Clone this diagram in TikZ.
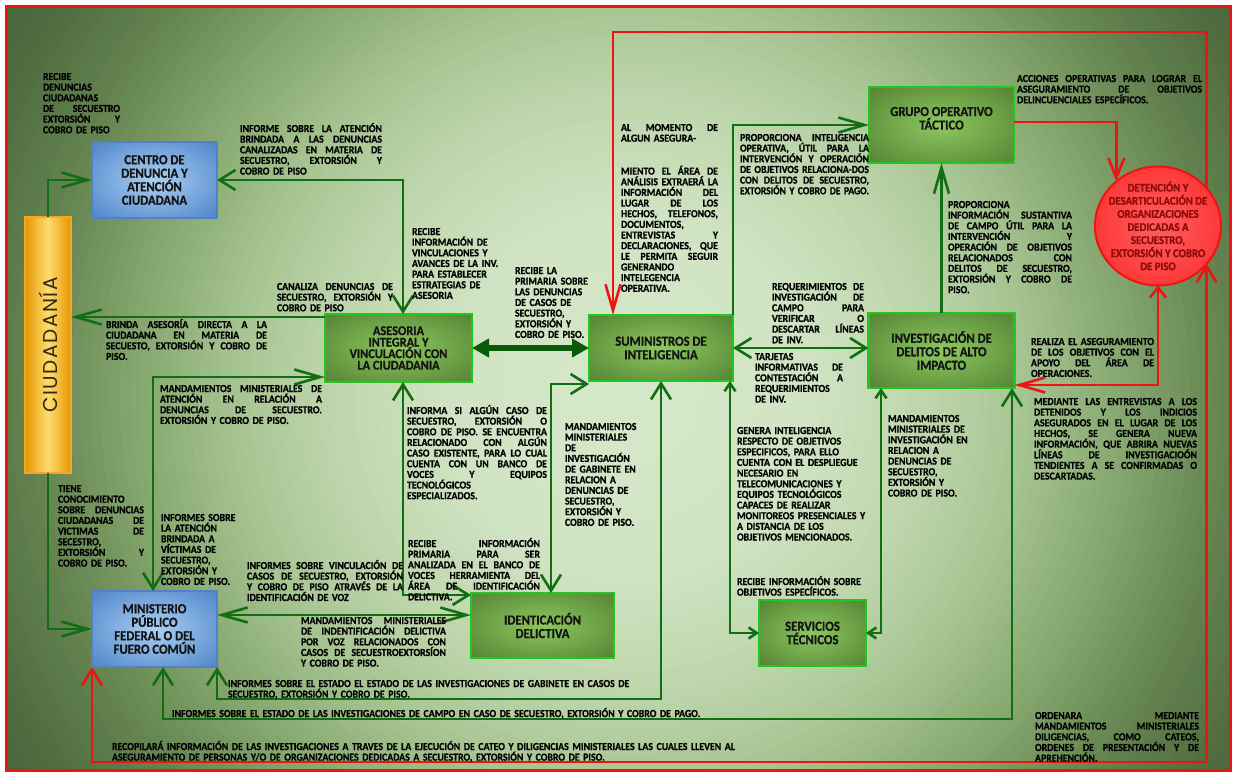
\documentclass[tikz,border=0pt]{standalone}
\usepackage{fontspec}
\usepackage{graphicx}
\setmainfont{Carlito}[FakeStretch=0.92, BoldFeatures={FakeBold=0.8}]
\newfontfamily\ciufont{Poppins}[LetterSpace=8]
\usetikzlibrary{arrows.meta,shapes.geometric}

\definecolor{gline}{RGB}{18,110,18}
\definecolor{gdark}{RGB}{10,90,10}
\definecolor{rline}{RGB}{238,20,20}
\definecolor{gborder}{RGB}{30,200,30}
\definecolor{gin}{RGB}{140,200,95}
\definecolor{gout}{RGB}{70,112,40}
\definecolor{goutd}{RGB}{56,92,32}
\definecolor{bin}{RGB}{170,208,242}
\definecolor{bout}{RGB}{55,112,190}
\definecolor{boutd}{RGB}{45,92,160}
\definecolor{bborder}{RGB}{80,130,200}
\definecolor{rin}{RGB}{255,95,95}
\definecolor{rout}{RGB}{250,18,18}
\definecolor{ttxt}{RGB}{20,20,20}
\definecolor{dtxt}{RGB}{140,10,10}
\definecolor{ctxt}{RGB}{50,40,20}
\definecolor{oin}{RGB}{255,220,110}
\definecolor{oout}{RGB}{228,150,0}
\definecolor{oborder}{RGB}{245,165,40}
% background ring colours
\definecolor{bg0}{RGB}{214,232,202}
\definecolor{bg1}{RGB}{208,228,195}
\definecolor{bg2}{RGB}{190,214,172}
\definecolor{bg3}{RGB}{166,196,145}
\definecolor{bg4}{RGB}{133,166,110}
\definecolor{bg5}{RGB}{100,132,80}
\definecolor{bg6}{RGB}{78,106,62}
\definecolor{bg7}{RGB}{70,96,55}

\pgfdeclareradialshading{gsh}{\pgfpoint{0bp}{0bp}}{color(0bp)=(gin); color(45bp)=(gout); color(75bp)=(goutd)}
\pgfdeclareradialshading{bsh}{\pgfpoint{0bp}{0bp}}{color(0bp)=(bin); color(45bp)=(bout); color(75bp)=(boutd)}
\pgfdeclareradialshading{rsh}{\pgfpoint{0bp}{0bp}}{color(0bp)=(rin); color(50bp)=(rout)}

\newcommand\lblf{\fontsize{10.7}{10.65}\selectfont\bfseries}
\newcommand\nodef{\fontsize{13.8}{13.5}\selectfont\bfseries}
\newcommand\nodefa{\fontsize{13.4}{11.5}\selectfont\bfseries}
\newcommand\detf{\fontsize{11.7}{13.1}\selectfont\bfseries}
\newsavebox\jlbox
\newcommand\jl[1]{\leavevmode\sbox\jlbox{#1}\ifdim\wd\jlbox>\linewidth\resizebox{\linewidth}{\height}{\usebox\jlbox}\else\makebox[\linewidth][s]{\spaceskip=0pt\xspaceskip=0pt #1}\fi\par}
\newcommand\pl[1]{\leavevmode\sbox\jlbox{#1}\ifdim\wd\jlbox>\linewidth\resizebox{\linewidth}{\height}{\usebox\jlbox}\else\usebox\jlbox\fi\par}
% ring segment: inner radius, outer radius, inner colour, outer colour
\newcommand\bgseg[4]{%
  \foreach \k in {0,...,9}{%
    \pgfmathsetmacro\rr{#2-\k*(#2-#1)/10}%
    \pgfmathtruncatemacro\pp{100-\k*10}%
    \fill[#4!\pp!#3] (630,395) circle[radius=\rr];
  }}

\tikzset{
 bigV/.tip={Straight Barb[length=26pt,width=15pt]},
 midV/.tip={Straight Barb[length=16pt,width=20pt]},
 smlV/.tip={Straight Barb[length=8pt,width=11pt]},
 fatT/.tip={Triangle[length=17pt,width=18pt]},
 gl/.style={draw=gline, line width=2.6pt},
 rl/.style={draw=rline, line width=2.6pt},
 gbox/.style={shade, shading=gsh, draw=gborder, line width=2.6pt, inner sep=0pt, outer sep=0pt, align=center, font=\nodef, text=ttxt},
 bbox/.style={shade, shading=bsh, draw=bborder, line width=2pt, inner sep=0pt, outer sep=0pt, align=center, font=\nodef, text=ttxt},
 lbl/.style={anchor=base west, inner sep=0pt, outer sep=0pt, font=\lblf, align=left, text width=#1, text=black},
}

\begin{document}
\begin{tikzpicture}[x=1pt,y=-1pt]
\useasboundingbox (0,0) rectangle (1233,773);
\fill[white] (0,0) rectangle (1233,773);
\begin{scope}
\clip (6,7) rectangle (1230,770);
\bgseg{700}{800}{bg6}{bg7}
\bgseg{600}{700}{bg5}{bg6}
\bgseg{500}{600}{bg4}{bg5}
\bgseg{400}{500}{bg3}{bg4}
\bgseg{300}{400}{bg2}{bg3}
\bgseg{180}{300}{bg1}{bg2}
\bgseg{0}{180}{bg0}{bg1}
\end{scope}
\draw[rline, line width=3pt] (6,7) rectangle (1230,770);

% nodes
\node[shade, left color=oout, right color=oout, middle color=oin, draw=oborder, line width=2pt, minimum width=46pt, minimum height=256pt, inner sep=0pt, outer sep=0pt] (ciu) at (48,345) {\rotatebox{90}{\ciufont\fontsize{20}{20}\selectfont\color{ctxt}CIUDADANÍA}};
\node[bbox, minimum width=125pt, minimum height=76pt] (cen) at (154.5,180) {CENTRO DE\\DENUNCIA Y\\ATENCIÓN\\CIUDADANA};
\node[bbox, minimum width=125pt, minimum height=76pt] (mp) at (154.5,629) {MINISTERIO\\PÚBLICO\\FEDERAL O DEL\\FUERO COMÚN};
\node[gbox, minimum width=147pt, minimum height=68pt, font=\nodefa] (ase) at (398.5,348) {ASESORIA\\INTEGRAL Y\\VINCULACIÓN CON\\LA CIUDADANIA};
\node[gbox, minimum width=144pt, minimum height=66pt] (sum) at (661,348) {SUMINISTROS DE\\INTELIGENCIA};
\node[gbox, minimum width=145pt, minimum height=76pt] (grp) at (941.5,125) {GRUPO OPERATIVO\\TÁCTICO\\\mbox{}};
\node[gbox, minimum width=146pt, minimum height=75pt] (inv) at (941.5,350.5) {INVESTIGACIÓN DE\\DELITOS DE ALTO\\IMPACTO};
\node[gbox, minimum width=143pt, minimum height=65pt] (ide) at (542.5,625.5) {IDENTICACIÓN\\DELICTIVA};
\node[gbox, minimum width=107pt, minimum height=66pt] (svc) at (812.5,633) {SERVICIOS\\TÉCNICOS};
\node[ellipse, shade, shading=rsh, draw=rline, line width=2pt, minimum width=126pt, minimum height=119pt, inner sep=0pt, outer sep=0pt] (det) at (1158,226) {};
\node[font=\detf, text=dtxt, align=center, inner sep=0pt] (dett) at (det.center) {DETENCIÓN Y\\DESARTICULACIÓN DE\\ORGANIZACIONES\\DEDICADAS A\\SECUESTRO,\\EXTORSIÓN Y COBRO\\DE PISO};

% connectors
\draw[gl,-bigV] (ciu.north) |- (cen.west);
\draw[gl,midV-midV] (cen.east) -| (403,0 |- ase.north);
\draw[gl,-bigV] (ase.west |- 0,317) -- (ciu.east |- 0,317);
\draw[gl,bigV-midV] (ase.west |- 0,377) -| (153,0 |- mp.north);
\draw[gl,-bigV] (ciu.south) |- (mp.west);
\draw[draw=gdark,line width=5.5pt,fatT-fatT] (ase.east) -- (sum.west);
\draw[gl,midV-midV] (403,0 |- ase.south) |- (ide.west |- 0,595);
\draw[gl,bigV-bigV] (mp.east |- 0,615) -- (ide.west |- 0,615);
\draw[gl,midV-midV] (sum.west |- 0,384) -| (551,0 |- ide.north);
\draw[gl,midV-midV] (sum.south) -- (sum.south |- 0,699) -| (mp.south east);
\draw[gl,midV-midV] (1012,0 |- inv.south) -- (1012,719) -| (163,0 |- mp.south);
\draw[rl,midV-midV] (mp.south west) -- (mp.south west |- 0,762) -| (det.-38.7);
\draw[rl,bigV-] (613,0 |- sum.north) -- (613,32) -| (det.38.7);
\draw[gl,-bigV] (sum.north east) |- (grp.west);
\draw[rl,-{Straight Barb[length=20pt,width=16pt]}] (grp.east |- 0,122) -| (det.133.5);
\draw[gl,-bigV] (inv.north) -- (grp.south);
\draw[gl,midV-midV] (sum.east) -- (sum.east -| inv.west);
\draw[gl,smlV-smlV] (730,0 |- sum.south) |- (svc.west);
\draw[gl,smlV-smlV] (881,0 |- inv.south) |- (svc.east);
\draw[rl,{Straight Barb[length=10pt,width=16pt]}-bigV] (det.south) |- (inv.east |- 0,385);

% labels
\node[lbl=77pt] (t1) at (43,80) {\pl{RECIBE}\pl{DENUNCIAS}\pl{CIUDADANAS}\jl{DE SECUESTRO}\jl{EXTORSIÓN Y}\pl{COBRO DE PISO}};
\node[lbl=142pt] (t2) at (240,132) {\jl{INFORME SOBRE LA ATENCIÓN}\jl{BRINDADA A LAS DENUNCIAS}\jl{CANALIZADAS EN MATERIA DE}\jl{SECUESTRO, EXTORSIÓN Y}\pl{COBRO DE PISO}};
\node[lbl=95pt] (t3) at (412,235) {\pl{RECIBE}\pl{INFORMACIÓN DE}\pl{VINCULACIONES Y}\pl{AVANCES DE LA INV.}\pl{PARA ESTABLECER}\pl{ESTRATEGIAS DE}\pl{ASESORIA}};
\node[lbl=116pt] (t4) at (277,290) {\jl{CANALIZA DENUNCIAS DE}\jl{SECUESTRO, EXTORSIÓN Y}\pl{COBRO DE PISO}};
\node[lbl=161pt] (t5) at (106,328) {\jl{BRINDA ASESORÍA DIRECTA A LA}\jl{CIUDADANA EN MATERIA DE}\jl{SECUESTO, EXTORSIÓN Y COBRO DE}\pl{PISO.}};
\node[lbl=162pt] (t6) at (160,392) {\jl{MANDAMIENTOS MINISTERIALES DE}\jl{ATENCIÓN EN RELACIÓN A}\jl{DENUNCIAS DE SECUESTRO.}\pl{EXTORSIÓN Y COBRO DE PISO.}};
\node[lbl=86pt] (t7) at (58,492) {\pl{TIENE}\pl{CONOCIMIENTO}\jl{SOBRE DENUNCIAS}\jl{CIUDADANAS DE}\jl{VICTIMAS DE}\pl{SECESTRO,}\jl{EXTORSIÓN Y}\pl{COBRO DE PISO.}};
\node[lbl=80pt] (t8) at (161,521) {\pl{INFORMES SOBRE}\pl{LA ATENCIÓN}\pl{BRINDADA A}\pl{VÍCTIMAS DE}\pl{SECUESTRO,}\pl{EXTORSIÓN Y}\pl{COBRO DE PISO.}};
\node[lbl=156pt] (t9) at (247,569) {\jl{INFORMES SOBRE VINCULACIÓN DE}\jl{CASOS DE SECUESTRO, EXTORSIÓN}\jl{Y COBRO DE PISO ATRAVÉS DE LA}\pl{IDENTIFICACIÓN DE VOZ}};
\node[lbl=145pt] (t10) at (301,624) {\jl{MANDAMIENTOS MINISTERIALES}\jl{DE INDENTIFICACIÓN DELICTIVA}\jl{POR VOZ RELACIONADOS CON}\jl{CASOS DE SECUESTROEXTORSÍON}\pl{Y COBRO DE PISO.}};
\node[lbl=140pt] (t11) at (407,414) {\jl{INFORMA SI ALGÚN CASO DE}\jl{SECUESTRO, EXTORSIÓN O}\jl{COBRO DE PISO. SE ENCUENTRA}\jl{RELACIONADO CON ALGÚN}\jl{CASO EXISTENTE, PARA LO CUAL}\jl{CUENTA CON UN BANCO DE}\jl{VOCES Y EQUIPOS}\pl{TECNOLÓGICOS}\pl{ESPECIALIZADOS.}};
\node[lbl=132pt] (t12) at (408,547) {\jl{RECIBE INFORMACIÓN}\jl{PRIMARIA PARA SER}\jl{ANALIZADA EN EL BANCO DE}\jl{VOCES HERRAMIENTA DEL}\jl{ÁREA DE IDENTIFICACIÓN}\pl{DELICTIVA.}};
\node[lbl=80pt] (t13) at (515,274) {\pl{RECIBE LA}\pl{PRIMARIA SOBRE}\pl{LAS DENUNCIAS}\pl{DE CASOS DE}\pl{SECUESTRO,}\pl{EXTORSIÓN Y}\pl{COBRO DE PISO.}};
\node[lbl=82pt] (t14) at (565,430) {\pl{MANDAMIENTOS}\pl{MINISTERIALES}\pl{DE}\pl{INVESTIGACIÓN}\pl{DE GABINETE EN}\pl{RELACION A}\pl{DENUNCIAS DE}\pl{SECUESTRO,}\pl{EXTORSIÓN Y}\pl{COBRO DE PISO.}};
\node[lbl=97pt] (t15) at (621,131) {\jl{AL MOMENTO DE}\pl{ALGUN ASEGURA-}};
\node[lbl=97pt] (t16) at (621,174.6) {\jl{MIENTO EL ÁREA DE}\jl{ANÁLISIS EXTRAERÁ LA}\jl{INFORMACIÓN DEL}\jl{LUGAR DE LOS}\jl{HECHOS, TELEFONOS,}\pl{DOCUMENTOS,}\jl{ENTREVISTAS Y}\jl{DECLARACIONES, QUE}\jl{LE PERMITA SEGUIR}\pl{GENERANDO}\pl{INTELEGENCIA}\pl{OPERATIVA.}};
\node[lbl=129pt] (t17) at (740,141) {\jl{PROPORCIONA INTELIGENCIA}\jl{OPERATIVA, ÚTIL PARA LA}\jl{INTERVENCIÓN Y OPERACIÓN}\jl{DE OBJETIVOS RELACIONA-DOS}\jl{CON DELITOS DE SECUESTRO,}\pl{EXTORSIÓN Y COBRO DE PAGO.}};
\node[lbl=185pt] (t18) at (1017,82) {\jl{ACCIONES OPERATIVAS PARA LOGRAR EL}\jl{ASEGURAMIENTO DE OBJETIVOS}\pl{DELINCUENCIALES ESPECÍFICOS.}};
\node[lbl=124pt] (t19) at (948,208) {\pl{PROPORCIONA}\jl{INFORMACIÓN SUSTANTIVA}\jl{DE CAMPO ÚTIL PARA LA}\jl{INTERVENCIÓN Y}\jl{OPERACIÓN DE OBJETIVOS}\jl{RELACIONADOS CON}\jl{DELITOS DE SECUESTRO,}\jl{EXTORSIÓN Y COBRO DE}\pl{PISO.}};
\node[lbl=92pt] (t20) at (772,290) {\jl{REQUERIMIENTOS DE}\jl{INVESTIGACIÓN DE}\jl{CAMPO PARA}\jl{VERIFICAR O}\jl{DESCARTAR LÍNEAS}\pl{DE INV.}};
\node[lbl=88pt] (t21) at (755,360) {\pl{TARJETAS}\jl{INFORMATIVAS DE}\jl{CONTESTACIÓN A}\pl{REQUERIMIENTOS}\pl{DE INV.}};
\node[lbl=140pt] (t22) at (737,434) {\pl{GENERA INTELIGENCIA}\pl{RESPECTO DE OBJETIVOS}\pl{ESPECIFICOS, PARA ELLO}\pl{CUENTA CON EL DESPLIEGUE}\pl{NECESARIO EN}\pl{TELECOMUNICACIONES Y}\pl{EQUIPOS TECNOLÓGICOS}\pl{CAPACES DE REALIZAR}\pl{MONITOREOS PRESENCIALES Y}\pl{A DISTANCIA DE LOS}\pl{OBJETIVOS MENCIONADOS.}};
\node[lbl=130pt] (t23) at (737,585) {\pl{RECIBE INFORMACIÓN SOBRE}\pl{OBJETIVOS ESPECÍFICOS.}};
\node[lbl=90pt] (t24) at (888,422) {\pl{MANDAMIENTOS}\pl{MINISTERIALES DE}\pl{INVESTIGACIÓN EN}\pl{RELACION A}\pl{DENUNCIAS DE}\pl{SECUESTRO,}\pl{EXTORSIÓN Y}\pl{COBRO DE PISO.}};
\node[lbl=123pt] (t25) at (1031,345) {\jl{REALIZA EL ASEGURAMIENTO}\jl{DE LOS OBJETIVOS CON EL}\jl{APOYO DEL ÁREA DE}\pl{OPERACIONES.}};
\node[lbl=163pt] (t26) at (1034,405) {\jl{MEDIANTE LAS ENTREVISTAS A LOS}\jl{DETENIDOS Y LOS INDICIOS}\jl{ASEGURADOS EN EL LUGAR DE LOS}\jl{HECHOS, SE GENERA NUEVA}\jl{INFORMACIÓN, QUE ABRIRA NUEVAS}\jl{LÍNEAS DE INVESTIGACIOÓN}\jl{TENDIENTES A SE CONFIRMADAS O}\pl{DESCARTADAS.}};
\node[lbl=420pt] (t27) at (228,687) {\pl{INFORMES SOBRE EL ESTADO EL ESTADO DE LAS INVESTIGACIONES DE GABINETE EN CASOS DE}\pl{SECUESTRO, EXTORSIÓN Y COBRO DE PISO.}};
\node[lbl=540pt] (t28) at (172,717) {\pl{INFORMES SOBRE EL ESTADO DE LAS INVESTIGACIONES DE CAMPO EN CASO DE SECUESTRO, EXTORSIÓN Y COBRO DE PAGO.}};
\node[lbl=640pt] (t29) at (112,750) {\pl{RECOPILARÁ INFORMACIÓN DE LAS INVESTIGACIONES A TRAVES DE LA EJECUCIÓN DE CATEO Y DILIGENCIAS MINISTERIALES LAS CUALES LLEVEN AL}\pl{ASEGURAMIENTO DE PERSONAS Y/O DE ORGANIZACIONES DEDICADAS A SECUESTRO, EXTORSIÓN Y COBRO DE PISO.}};
\node[lbl=164pt] (t30) at (1035,719) {\jl{ORDENARA MEDIANTE}\jl{MANDAMIENTOS MINISTERIALES}\jl{DILIGENCIAS, COMO CATEOS,}\jl{ORDENES DE PRESENTACIÓN Y DE}\pl{APREHENCIÓN.}};
\end{tikzpicture}
\end{document}
